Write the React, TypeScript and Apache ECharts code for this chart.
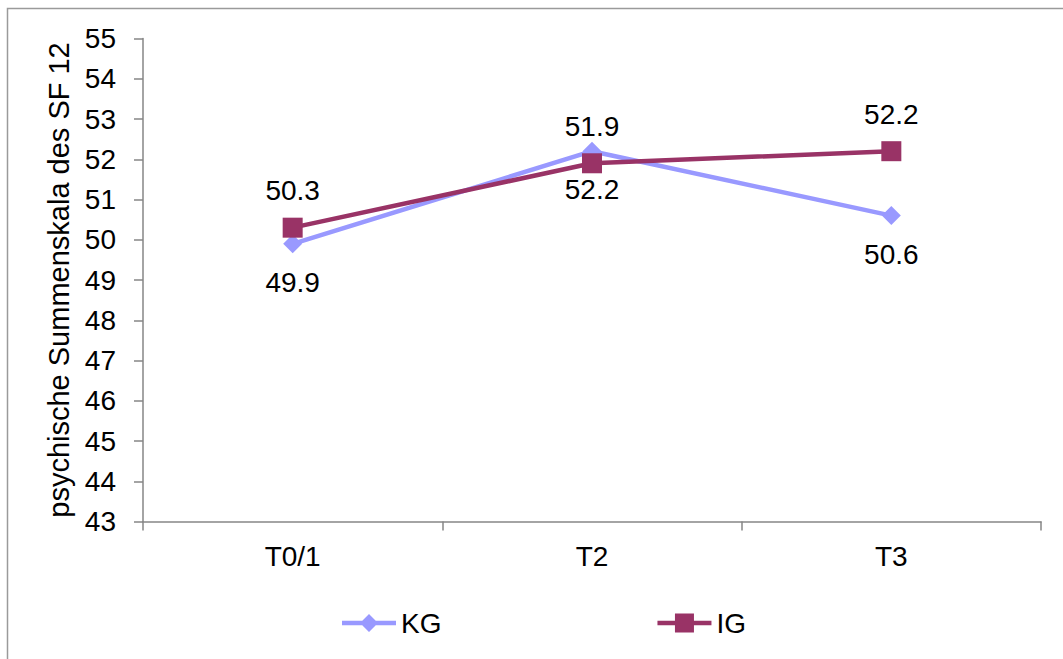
import React, { useEffect, useRef } from "react";
import * as echarts from "echarts";

const categories = ["T0/1", "T2", "T3"];
const kgValues = [49.9, 52.2, 50.6];
const igValues = [50.3, 51.9, 52.2];
const yMin = 43;
const yMax = 55;
const yName = "psychische Summenskala des SF 12";

const FONT = "'Liberation Sans', Arial, sans-serif";
const FONT_SIZE = 28;
const AXIS_GRAY = "#868686";
const KG_COLOR = "#9999FF";
const IG_COLOR = "#993366";

// Legend icons: a thick line with the series marker in its middle
const KG_ICON = "path://M0 8.7 L54 8.7 L54 13.3 L0 13.3 Z M27 2 L36 11 L27 20 L18 11 Z";
const IG_ICON = "path://M0 8.7 L54 8.7 L54 13.3 L0 13.3 Z M17.5 1.5 L36.5 1.5 L36.5 20.5 L17.5 20.5 Z";

export default function App() {
  const ref = useRef<HTMLDivElement>(null);

  useEffect(() => {
    if (!ref.current) return;
    const chart = echarts.init(ref.current, null, { renderer: "svg" });
    const labelStyle = {
      fontSize: FONT_SIZE,
      color: "#000",
      fontFamily: FONT,
    };
    chart.setOption({
      animation: false,
      backgroundColor: "#ffffff",
      textStyle: { fontFamily: FONT, color: "#000" },
      graphic: [
        {
          type: "rect",
          shape: { x: 7.5, y: 8.5, width: 1100, height: 700 },
          style: { fill: "none", stroke: "#9a9a9a", lineWidth: 1.5 },
          silent: true,
        },
      ],
      grid: { left: 143, right: 22, top: 38.5, bottom: 137.5 },
      xAxis: {
        type: "category",
        data: categories,
        boundaryGap: true,
        axisLine: { lineStyle: { color: AXIS_GRAY, width: 1.5 } },
        axisTick: { show: true, length: 9, lineStyle: { color: AXIS_GRAY, width: 1.5 } },
        axisLabel: { ...labelStyle, margin: 21 },
      },
      yAxis: {
        type: "value",
        min: yMin,
        max: yMax,
        interval: 1,
        name: yName,
        nameLocation: "middle",
        nameGap: 67,
        nameTextStyle: { ...labelStyle, fontSize: 29 },
        axisLine: { show: true, lineStyle: { color: AXIS_GRAY, width: 1.5 } },
        axisTick: { show: true, length: 9, lineStyle: { color: AXIS_GRAY, width: 1.5 } },
        axisLabel: { ...labelStyle, margin: 27 },
        splitLine: { show: false },
      },
      legend: {
        left: 337,
        top: 604,
        itemGap: 216,
        itemWidth: 54,
        itemHeight: 22,
        textStyle: labelStyle,
        data: [
          { name: "KG", icon: KG_ICON, itemStyle: { color: KG_COLOR, borderWidth: 0 } },
          { name: "IG", icon: IG_ICON, itemStyle: { color: IG_COLOR, borderWidth: 0 } },
        ],
      },
      series: [
        {
          name: "KG",
          type: "line",
          data: kgValues,
          symbol: "diamond",
          symbolSize: 19,
          lineStyle: { color: KG_COLOR, width: 4.5 },
          itemStyle: { color: KG_COLOR },
          label: {
            show: true,
            position: "bottom",
            distance: 15,
            ...labelStyle,
            formatter: (p: any) => p.value.toFixed(1),
          },
          z: 2,
        },
        {
          name: "IG",
          type: "line",
          data: igValues,
          symbol: "rect",
          symbolSize: 20,
          lineStyle: { color: IG_COLOR, width: 4.5 },
          itemStyle: { color: IG_COLOR },
          label: {
            show: true,
            position: "top",
            distance: 13,
            ...labelStyle,
            formatter: (p: any) => p.value.toFixed(1),
          },
          z: 3,
        },
      ],
    });
    return () => chart.dispose();
  }, []);

  return (
    <div
      ref={ref}
      style={{ position: "fixed", left: 0, top: 0, width: 1063, height: 659 }}
    />
  );
}
